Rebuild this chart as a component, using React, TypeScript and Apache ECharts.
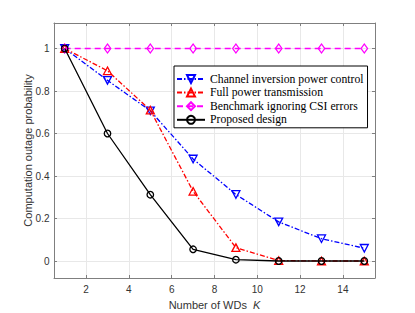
import React, { useEffect, useRef } from "react";
import * as echarts from "echarts";

const K = [1, 3, 5, 7, 9, 11, 13, 15];
const channelInversion = [1, 0.85, 0.707, 0.48, 0.313, 0.184, 0.105, 0.06];
const fullPower = [1, 0.895, 0.71, 0.328, 0.063, 0.002, 0.0, 0.0];
const benchmark = [1, 1, 1, 1, 1, 1, 1, 1];
const proposed = [1, 0.6, 0.312, 0.055, 0.006, 0.0, 0.0, 0.0];
const xTicks = [2, 4, 6, 8, 10, 12, 14];
const yTicks = [0, 0.2, 0.4, 0.6, 0.8, 1];
const seriesNames = [
  "Channel inversion power control",
  "Full power transmission",
  "Benchmark ignoring CSI errors",
  "Proposed design",
];

const pair = (ys: number[]) => K.map((k, i) => [k, ys[i]]);

export default function App() {
  const ref = useRef<HTMLDivElement>(null);
  useEffect(() => {
    if (!ref.current) return;
    const chart = echarts.init(ref.current, undefined, { renderer: "svg" });
    const axisColor = "#7f7f7f";
    const gridColor = "#e8e8e8";
    const labelColor = "#333333";
    const xBase = {
      type: "value" as const,
      min: 0.5,
      max: 15.5,
      axisLine: { show: true, onZero: false, lineStyle: { color: axisColor, width: 1 } },
      axisTick: { show: true, inside: true, length: 3, customValues: xTicks, lineStyle: { color: axisColor } },
      splitLine: { show: false },
    };
    const yBase = {
      type: "value" as const,
      min: -0.08,
      max: 1.12,
      axisLine: { show: true, onZero: false, lineStyle: { color: axisColor, width: 1 } },
      axisTick: { show: true, inside: true, length: 3, customValues: yTicks, lineStyle: { color: axisColor } },
      splitLine: { show: false },
    };
    const lineSeries = (
      name: string,
      data: number[],
      color: string,
      type: any,
      symbol: string,
      size: any,
      rotate: number,
      z: number
    ) => ({
      name,
      type: "line",
      data: pair(data),
      symbol,
      symbolSize: size,
      symbolRotate: rotate,
      showAllSymbol: true,
      z,
      lineStyle: { color, width: 1.3, type },
      itemStyle: { color: "rgba(255,255,255,0)", borderColor: color, borderWidth: 1.3 },
      emphasis: { disabled: true },
    });
    chart.setOption({
      animation: false,
      backgroundColor: "#ffffff",
      grid: { left: 54, right: 40, top: 23, bottom: 35, containLabel: false, outerBoundsMode: "none" },
      legend: {
        orient: "vertical",
        left: 174,
        top: 66,
        padding: [7, 4, 2, 2],
        itemGap: 1.6,
        itemWidth: 28,
        itemHeight: 10,
        backgroundColor: "#ffffff",
        borderColor: "#000000",
        borderWidth: 1,
        borderRadius: 0,
        textStyle: {
          fontFamily: "'Liberation Serif', 'Times New Roman', serif",
          fontSize: 11.7,
          color: "#000000",
          lineHeight: 10,
        },
        data: seriesNames,
      },
      xAxis: [
        {
          ...xBase,
          position: "bottom",
          name: "{n|Number of WDs  }{k|K}",
          nameLocation: "middle",
          nameGap: 21,
          nameMoveOverlap: false,
          nameTextStyle: {
            rich: {
              n: { fontFamily: "Liberation Sans", fontSize: 11, color: labelColor },
              k: { fontFamily: "Liberation Sans", fontSize: 11, color: labelColor, fontStyle: "italic" },
            },
          },
          axisLabel: {
            show: true,
            customValues: xTicks,
            fontFamily: "Liberation Sans",
            fontSize: 10,
            color: labelColor,
            margin: 6,
          },
          splitLine: { show: true, lineStyle: { color: gridColor, width: 1 } },
        },
        { ...xBase, position: "top", axisLabel: { show: false } },
      ],
      yAxis: [
        {
          ...yBase,
          position: "left",
          name: "Computation outage probability",
          nameLocation: "middle",
          nameGap: 21,
          nameMoveOverlap: false,
          nameTextStyle: { fontFamily: "Liberation Sans", fontSize: 11, color: labelColor },
          axisLabel: {
            show: true,
            customValues: yTicks,
            fontFamily: "Liberation Sans",
            fontSize: 10,
            color: labelColor,
            margin: 4.5,
          },
          splitLine: { show: true, lineStyle: { color: gridColor, width: 1 } },
        },
        { ...yBase, position: "right", axisLabel: { show: false } },
      ],
      series: [
        lineSeries(seriesNames[0], channelInversion, "#0000ff", [5, 2, 1.5, 2], "triangle", [8, 7.5], 180, 2),
        lineSeries(seriesNames[1], fullPower, "#ff0000", [5, 2, 1.5, 2], "triangle", [8, 7.5], 0, 3),
        lineSeries(seriesNames[2], benchmark, "#ff00ff", [6, 4], "diamond", [6.5, 9], 0, 4),
        lineSeries(seriesNames[3], proposed, "#000000", "solid", "circle", 6.5, 0, 5),
      ],
    });
    return () => chart.dispose();
  }, []);
  return (
    <div
      ref={ref}
      style={{ position: "fixed", left: 0, top: 0, width: 415, height: 313 }}
    />
  );
}
